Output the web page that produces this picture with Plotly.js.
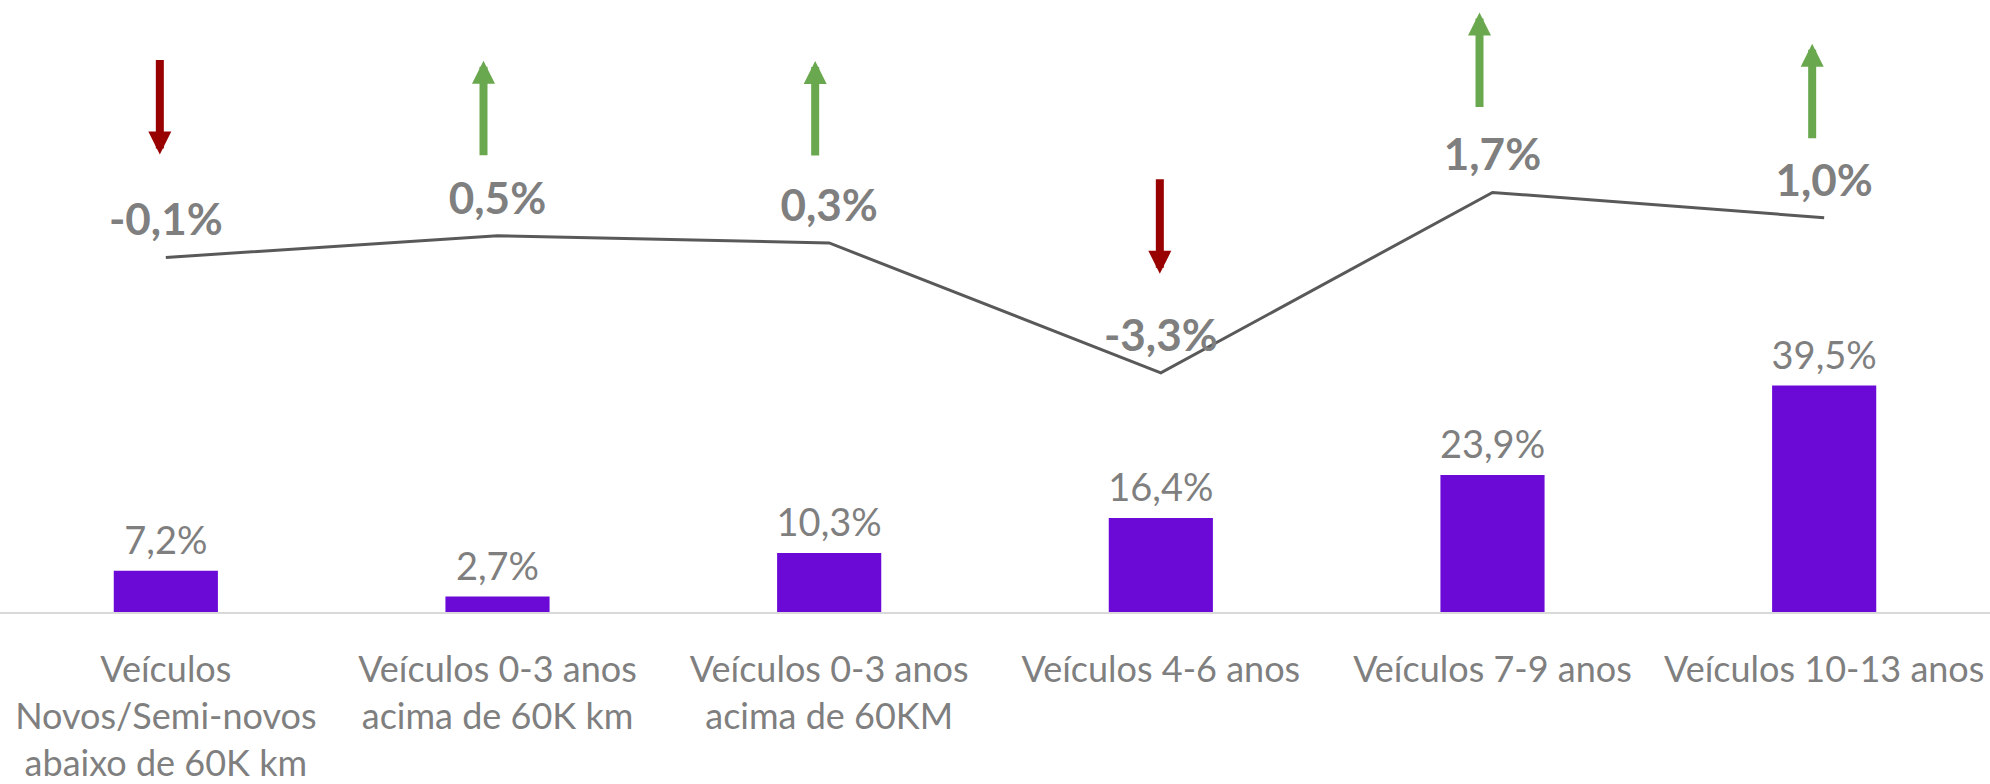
<!DOCTYPE html>
<html>
<head>
<meta charset="utf-8">
<script src="https://cdn.plot.ly/plotly-3.0.1.min.js"></script>
<style>
  html, body { margin: 0; padding: 0; background: #ffffff; }
  #chart { width: 1990px; height: 784px; }
</style>
</head>
<body>
<div id="chart"></div>
<script>
// ---- data ----
const categories = [
  "Veículos<br>Novos/Semi-novos<br>abaixo de 60K km",
  "Veículos 0-3 anos<br>acima de 60K km",
  "Veículos 0-3 anos<br>acima de 60KM",
  "Veículos 4-6 anos",
  "Veículos 7-9 anos",
  "Veículos 10-13 anos"
];
const shareValues = [7.2, 2.7, 10.3, 16.4, 23.9, 39.5];      // bars (%)
const changeValues = [-0.1, 0.5, 0.3, -3.3, 1.7, 1.0];       // line (%)

const fmt = v => v.toFixed(1).replace('.', ',') + '%';

const FONT = "Lato, 'Open Sans', 'Noto Sans', sans-serif";
const GRAY = "#7f7f7f";

const bars = {
  type: 'bar',
  x: categories,
  y: shareValues,
  width: 0.314,
  marker: { color: '#6b0ad6' },
  hoverinfo: 'skip',
  yaxis: 'y'
};

// value labels of the bars (placed on the bar tops through the same axis)
const barLabels = {
  type: 'scatter',
  mode: 'markers+text',
  x: categories,
  y: shareValues,
  marker: { size: 10, color: 'rgba(0,0,0,0)' },
  text: shareValues.map(fmt),
  textposition: 'top center',
  textfont: { family: FONT, size: 38, color: GRAY },
  cliponaxis: false,
  hoverinfo: 'skip',
  yaxis: 'y'
};

const line = {
  type: 'scatter',
  mode: 'lines+markers+text',
  x: categories,
  y: changeValues,
  line: { color: '#595959', width: 3 },
  marker: { size: 16, color: 'rgba(0,0,0,0)' },
  text: changeValues.map(fmt),
  textposition: 'top center',
  textfont: { family: FONT, size: 44, color: GRAY, weight: 'bold' },
  cliponaxis: false,
  hoverinfo: 'skip',
  yaxis: 'y2'
};

// arrows above each line point: up (green) when change >= 0, down (red) otherwise
const arrowOffsets = [
  { xs: -6, ys: 103 },
  { xs: -14, ys: 175 },
  { xs: -14, ys: 182 },
  { xs: -1, ys: 99 },
  { xs: -13, ys: 180 },
  { xs: -12, ys: 174 }
];
const annotations = changeValues.map((v, i) => {
  const up = v >= 0;
  return {
    x: categories[i], y: v, xref: 'x', yref: 'y2',
    text: '',
    showarrow: true,
    arrowhead: 2, arrowsize: 0.575, arrowwidth: 8,
    arrowcolor: up ? '#6aa84f' : '#990000',
    ax: 0, ay: up ? 96 : -96,
    xshift: arrowOffsets[i].xs, yshift: arrowOffsets[i].ys,
    standoff: 0, startstandoff: 0
  };
});

const layout = {
  width: 1990, height: 784,
  margin: { l: 0, r: 0, t: 0, b: 172, pad: 0 },
  paper_bgcolor: '#ffffff', plot_bgcolor: '#ffffff',
  showlegend: false,
  bargap: 0.5,
  xaxis: {
    type: 'category',
    range: [-0.5, 5.5],
    showgrid: false, zeroline: false,
    showline: true, linecolor: '#d9d9d9', linewidth: 2,
    ticks: '', ticklabelstandoff: 25,
    tickfont: { family: FONT, size: 36, color: GRAY },
    automargin: false, fixedrange: true
  },
  yaxis: {
    range: [0, 106.7],
    visible: false, showgrid: false, zeroline: false, fixedrange: true
  },
  yaxis2: {
    range: [-9.931, 7.036],
    overlaying: 'y', side: 'right',
    visible: false, showgrid: false, zeroline: false, fixedrange: true
  },
  annotations: annotations
};

Plotly.newPlot('chart', [bars, line, barLabels], layout, { displayModeBar: false, staticPlot: true });
</script>
</body>
</html>
